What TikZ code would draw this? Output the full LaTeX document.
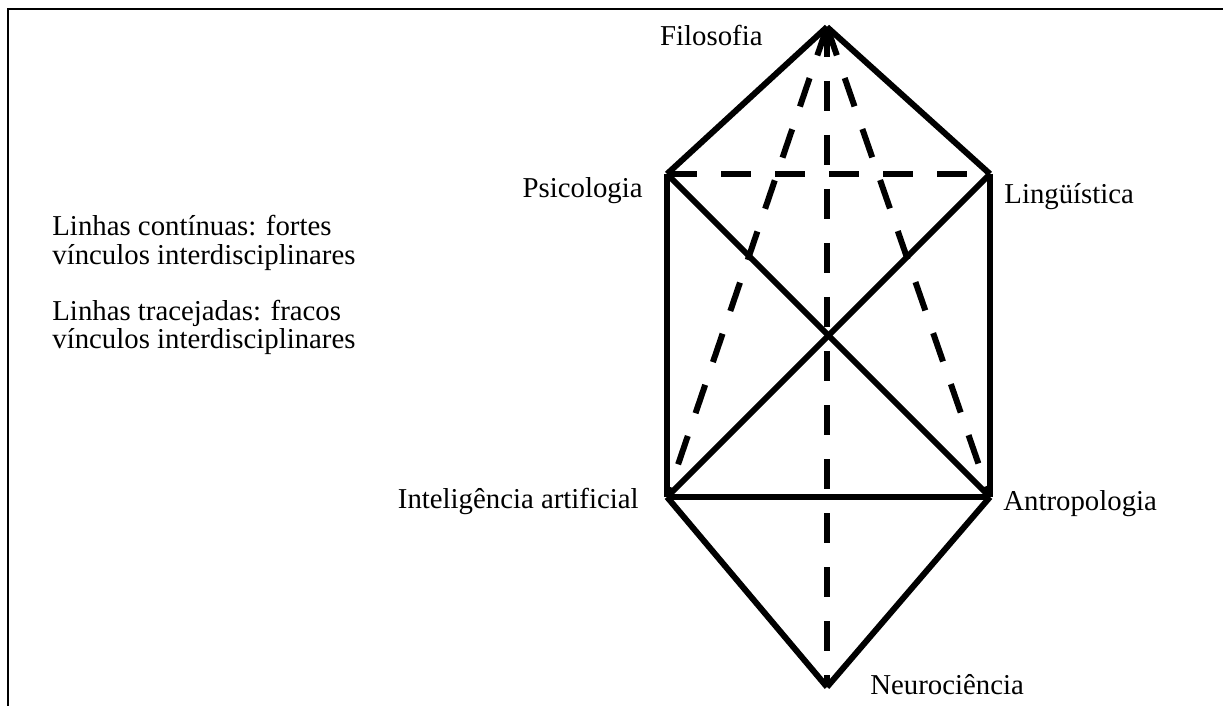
\documentclass[tikz,border=0pt]{standalone}
\usepackage{fontspec}
\setmainfont{Liberation Serif}
\begin{document}
\begin{tikzpicture}[x=0.5pt,y=-0.5pt,font=\fontsize{14.4}{14}\selectfont,
  forte/.style={line width=3pt},
  fraco/.style={line width=3pt,dash pattern=on 15pt off 12pt},
  rotulo/.style={inner sep=0pt}]
\useasboundingbox (0,0) rectangle (1223,706);
\draw[line width=0.8pt] (8,706) -- (8,9) -- (1223,9);

\coordinate (fil) at (827,27);
\coordinate (psi) at (667,174);
\coordinate (lin) at (990,174);
\coordinate (ia) at (667,497);
\coordinate (ant) at (990,497);
\coordinate (neu) at (827,687);

\node[rotulo,anchor=base east] (tfil) at (763,46) {Filosofia};
\node[rotulo,anchor=base east] (tpsi) at (643,198) {Psicologia};
\node[rotulo,anchor=base west] (tlin) at (1004,204) {Lingüística};
\node[rotulo,anchor=base east] (tia) at (639,508) {Inteligência artificial};
\node[rotulo,anchor=base west] (tant) at (1003,510) {Antropologia};
\node[rotulo,anchor=base west] (tneu) at (870,694) {Neurociência};

% base = baseline of the last line
\node[rotulo,anchor=base west,align=left] (cont) at (52,264) {Linhas contínuas: fortes\\vínculos interdisciplinares};
\node[rotulo,anchor=base west,align=left] (trac) at (52,349) {Linhas tracejadas: fracos\\vínculos interdisciplinares};

\draw[forte] (fil) -- (psi);
\draw[forte] (fil) -- (lin);
\draw[forte] (psi) -- (ia);
\draw[forte] (lin) -- (ant);
\draw[forte] (psi) -- (ant);
\draw[forte] (lin) -- (ia);
\draw[forte] (ia) -- (ant);
\draw[forte] (ia) -- (neu);
\draw[forte] (ant) -- (neu);

\draw[fraco] (psi) -- (lin);
\draw[fraco] (fil) -- (ia);
\draw[fraco] (fil) -- (ant);
\draw[fraco] (fil) -- (neu);

\end{tikzpicture}
\end{document}
